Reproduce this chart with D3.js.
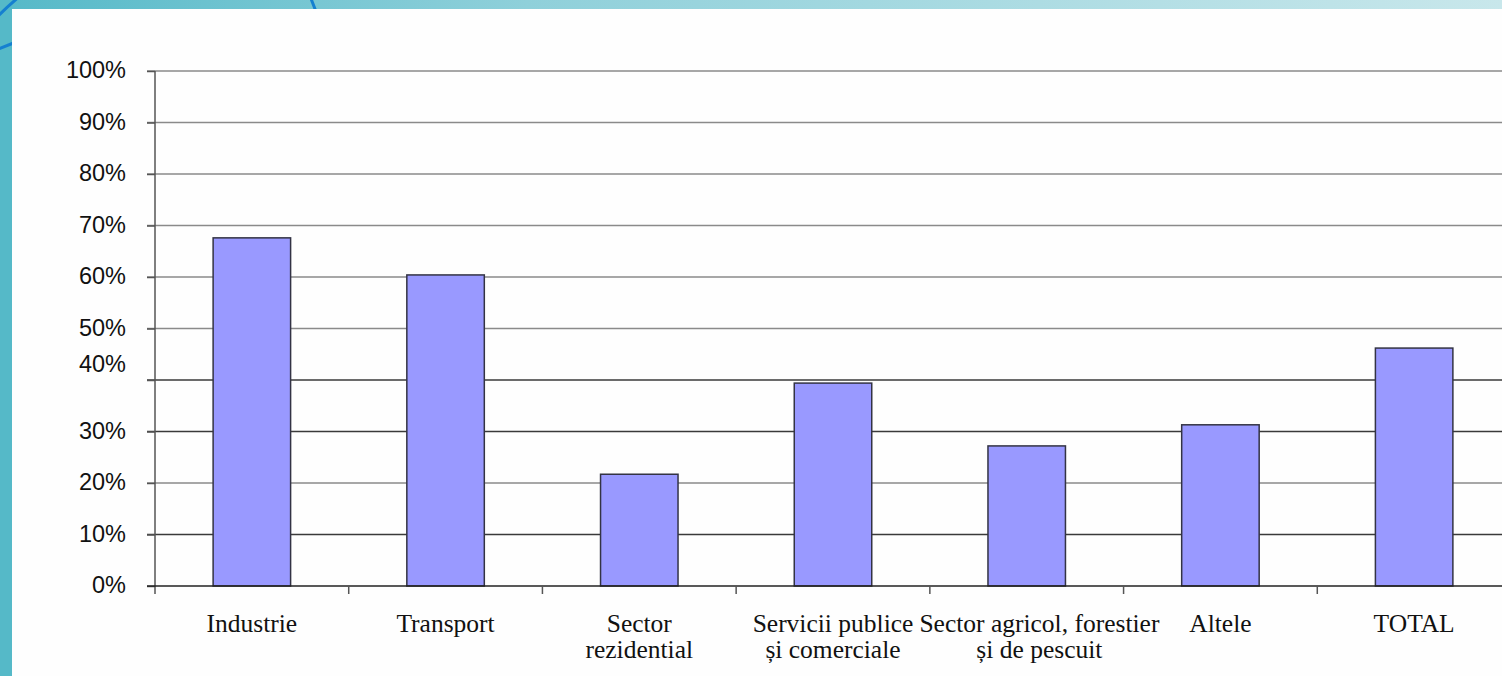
<!DOCTYPE html>
<html>
<head>
<meta charset="utf-8">
<script src="https://cdn.jsdelivr.net/npm/d3@7"></script>
<style>
  html, body { margin: 0; padding: 0; background: #ffffff; }
  svg { display: block; }
</style>
</head>
<body>
<svg id="chart" width="1502" height="676"></svg>
<script>
// Share of each sector (percent)
const categories = [
  ["Industrie"],
  ["Transport"],
  ["Sector", "rezidential"],
  ["Servicii publice", "și comerciale"],
  ["Sector agricol, forestier", "și de pescuit"],
  ["Altele"],
  ["TOTAL"]
];
const values = [67.6, 60.4, 21.7, 39.4, 27.2, 31.3, 46.2];
const yTicks = [0, 10, 20, 30, 40, 50, 60, 70, 80, 90, 100];

const svg = d3.select("#chart");
const W = 1502, H = 676;

// Slide frame: teal gradient band on top, teal strip on the left
const defs = svg.append("defs");
const grad = defs.append("linearGradient").attr("id", "topBand")
  .attr("x1", "0%").attr("x2", "100%").attr("y1", "0%").attr("y2", "0%");
grad.append("stop").attr("offset", "0%").attr("stop-color", "#55b9c8");
grad.append("stop").attr("offset", "35%").attr("stop-color", "#8fd0da");
grad.append("stop").attr("offset", "100%").attr("stop-color", "#c8e7eb");

svg.append("rect").attr("x", 0).attr("y", 0).attr("width", W).attr("height", H)
  .attr("fill", "url(#topBand)");
svg.append("rect").attr("x", 0).attr("y", 0).attr("width", 12).attr("height", H)
  .attr("fill", "#55b9c8");

// Decorative blue arcs behind the panel
const deco = svg.append("g").attr("fill", "none").attr("stroke", "#1580d0").attr("stroke-width", 3);
deco.append("path").attr("d", "M -4 18 Q 8 6 20 -4");
deco.append("path").attr("d", "M -4 50 Q 6 46 16 42");
deco.append("path").attr("d", "M 310 -4 Q 313 4 317 14");

// White panel
svg.append("rect").attr("x", 12).attr("y", 9).attr("width", W - 12).attr("height", H - 9)
  .attr("fill", "#fefefe");

// Plot area
const x0 = 155, x1 = 1511, yTop = 71, yBot = 586;

const x = d3.scaleBand()
  .domain(d3.range(categories.length))
  .range([x0, x1])
  .paddingInner(0.6)
  .paddingOuter(0.3);

const y = d3.scaleLinear().domain([0, 100]).range([yBot, yTop]);

// Gridlines
const grid = svg.append("g");
grid.selectAll("line").data(yTicks.filter(t => t > 0)).join("line")
  .attr("x1", x0 - 8).attr("x2", W)
  .attr("y1", d => y(d)).attr("y2", d => y(d))
  .attr("stroke", d => (d === 40 || d === 10 || d === 30) ? "#3a3a3a" : "#8a8a8a")
  .attr("stroke-width", 1.5);

// Bars
svg.append("g").selectAll("rect").data(values).join("rect")
  .attr("x", (d, i) => x(i))
  .attr("y", d => y(d))
  .attr("width", x.bandwidth())
  .attr("height", d => y(0) - y(d))
  .attr("fill", "#9999ff")
  .attr("stroke", "#333344")
  .attr("stroke-width", 1.5);

// Y axis
const yAxis = d3.axisLeft(y).tickValues(yTicks).tickSize(8).tickFormat(d => d + "%");
const gy = svg.append("g").attr("transform", `translate(${x0},0)`).call(yAxis);
gy.select(".domain").remove();
gy.selectAll(".tick line").attr("stroke", "#555").attr("stroke-width", 1.5);
gy.selectAll(".tick text")
  .attr("x", -29)
  .attr("dy", d => d === 40 ? "-0.35em" : "0.28em")
  .attr("font-family", "Liberation Sans, Arial, sans-serif")
  .attr("font-size", 23.5)
  .attr("fill", "#111");
svg.append("line")
  .attr("x1", x0).attr("x2", x0).attr("y1", yTop).attr("y2", yBot + 8)
  .attr("stroke", "#555").attr("stroke-width", 1.5);

// X axis baseline and tick marks on band edges
svg.append("line")
  .attr("x1", x0 - 8).attr("x2", W).attr("y1", yBot).attr("y2", yBot)
  .attr("stroke", "#222").attr("stroke-width", 1.5);
const step = x.step();
const edges = d3.range(categories.length).map(i => x(i) - (step - x.bandwidth()) / 2);
svg.append("g").selectAll("line").data(edges.slice(1)).join("line")
  .attr("x1", d => d).attr("x2", d => d)
  .attr("y1", yBot).attr("y2", yBot + 8)
  .attr("stroke", "#555").attr("stroke-width", 1.5);

// Category labels, nudged right when they would run into the previous one
const labels = svg.append("g")
  .attr("font-family", "Liberation Serif, Times New Roman, serif")
  .attr("font-size", 25.5)
  .attr("fill", "#111")
  .attr("text-anchor", "middle");
let prevRight = -Infinity;
labels.selectAll("text").data(categories).join("text")
  .attr("y", 632)
  .each(function(lines, i) {
    const t = d3.select(this);
    const spans = t.selectAll("tspan").data(lines).join("tspan")
      .attr("dy", (l, j) => j === 0 ? 0 : 26)
      .text(l => l);
    let cx = x(i) + x.bandwidth() / 2;
    const w0 = spans.node().getComputedTextLength();
    if (cx - w0 / 2 < prevRight + 6) cx = prevRight + 6 + w0 / 2;
    spans.attr("x", cx);
    prevRight = cx + w0 / 2;
  });
</script>
</body>
</html>
